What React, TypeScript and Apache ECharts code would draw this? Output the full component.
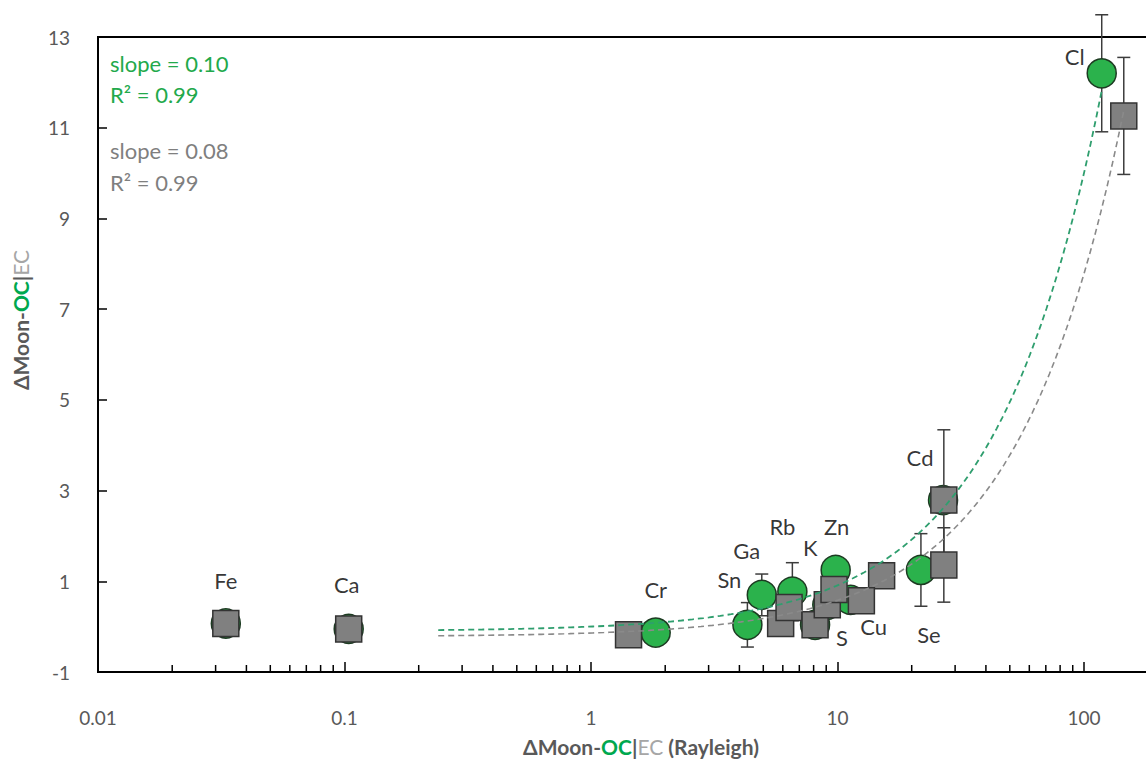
import React, { useEffect, useRef } from 'react';
import * as echarts from 'echarts';

// ---------- data ----------
const elements = ['Fe', 'Ca', 'Cr', 'Sn', 'Ga', 'Rb', 'K', 'Zn', 'S', 'Cu', 'Se', 'Cd', 'Cl'];
// OC (green circles)
const ocX = [0.033, 0.104, 1.83, 4.31, 4.93, 6.56, 9.09, 9.83, 8.11, 11.3, 21.8, 26.8, 118];
const ocY = [0.07, -0.05, -0.13, 0.04, 0.70, 0.77, 0.48, 1.25, 0.04, 0.59, 1.25, 2.79, 12.2];
const ocErr = [0, 0, 0, 0.49, 0.46, 0.64, 0, 0, 0, 0, 0.8, 0, 1.29];
// EC (grey squares)
const ecX = [0.033, 0.104, 1.42, 5.88, 6.36, 8.11, 9.09, 9.68, 15.1, 12.5, 27.0, 27.0, 145];
const ecY = [0.07, -0.05, -0.18, 0.07, 0.42, 0.04, 0.48, 0.82, 1.12, 0.57, 1.36, 2.79, 11.26];
const ecErr = [0, 0, 0, 0, 0, 0, 0, 0, 0, 0, 0.82, 1.55, 1.29];
// linear trendlines (y = slope * x + intercept)
const ocSlope = 0.101;
const ocIntercept = -0.1;
const ocFitRange = [0.24, 118];
const ecSlope = 0.08;
const ecIntercept = -0.22;
const ecFitRange = [0.24, 145];
// axis
const xTickLabels = ['0.01', '0.1', '1', '10', '100'];
const yTicks = [-1, 1, 3, 5, 7, 9, 11, 13];
const decades = [0.01, 0.1, 1, 10, 100];
const minorSteps = [2, 3, 4, 5, 6, 7, 8, 9];

// ---------- style (label offsets in px relative to the OC point) ----------
const labelOffsets: Record<string, [number, number]> = {
  Fe: [0, -43], Ca: [-2, -44], Cr: [0, -43], Sn: [-18, -45], Ga: [-15, -44],
  Rb: [-10, -65], K: [-17, -57], Zn: [1, -43], S: [27, 13], Cu: [23, 27],
  Se: [8, 65], Cd: [-23, -43], Cl: [-27, -17],
};

const GREEN = '#2bb24c';
const GREEN_TEXT = '#22a94b';
const GREEN_LINE = '#2f9e6e';
const GREY = '#808080';
const GREY_TEXT = '#7f7f7f';
const AXIS_TEXT = '#595959';
const FONT = 'Lato, "Open Sans", sans-serif';

const PLOT_LEFT = 98;
const DECADE_PX = 246.5;
const CHART_W = 1400; // wider than the window; the overflow is cut off like the cropped original

function fitLine(slope: number, intercept: number, range: number[]) {
  const pts: number[][] = [];
  const n = 120;
  const l0 = Math.log10(range[0]);
  const l1 = Math.log10(range[1]);
  for (let i = 0; i <= n; i++) {
    const x = Math.pow(10, l0 + ((l1 - l0) * i) / n);
    pts.push([x, slope * x + intercept]);
  }
  return pts;
}

function errorRender(params: any, api: any) {
  const x = api.value(0);
  const y = api.value(1);
  const e = api.value(2);
  const top = api.coord([x, y + e]);
  const bot = api.coord([x, y - e]);
  const hw = 6.5;
  const style = { stroke: '#3c3c3c', lineWidth: 1.5 };
  return {
    type: 'group',
    children: [
      { type: 'line', shape: { x1: top[0], y1: top[1], x2: bot[0], y2: bot[1] }, style },
      { type: 'line', shape: { x1: top[0] - hw, y1: top[1], x2: top[0] + hw, y2: top[1] }, style },
      { type: 'line', shape: { x1: bot[0] - hw, y1: bot[1], x2: bot[0] + hw, y2: bot[1] }, style },
    ],
  };
}

function minorTickRender(params: any, api: any) {
  const v = api.value(0);
  const p = api.coord([v, -1]);
  return {
    type: 'line',
    shape: { x1: p[0], y1: p[1], x2: p[0], y2: p[1] - 7 },
    style: { stroke: '#000', lineWidth: 1.5 },
  };
}

export default function App() {
  const ref = useRef<HTMLDivElement>(null);

  useEffect(() => {
    if (!ref.current) return;
    const chart = echarts.init(ref.current, null, { renderer: 'svg' });

    const minorTicks = decades.flatMap((d) => minorSteps.map((k) => [k * d]));
    const ocPts = elements.map((_, i) => [ocX[i], ocY[i]]);
    const ecPts = elements.map((_, i) => [ecX[i], ecY[i]]);
    const ocErrData = elements.map((_, i) => [ocX[i], ocY[i], ocErr[i]]).filter((d) => d[2] > 0);
    const ecErrData = elements.map((_, i) => [ecX[i], ecY[i], ecErr[i]]).filter((d) => d[2] > 0);
    const labelData = elements.map((el, i) => ({
      value: [ocX[i], ocY[i]],
      name: el,
      label: { offset: labelOffsets[el] },
    }));

    const titleRich = {
      a: { fill: AXIS_TEXT, fontSize: 21, fontWeight: 'bold', fontFamily: FONT },
      g: { fill: '#00a84f', fontSize: 21, fontWeight: 'bold', fontFamily: FONT },
      c: { fill: '#a6a6a6', fontSize: 21, fontWeight: 'normal', fontFamily: FONT },
    };

    const option: any = {
      animation: false,
      backgroundColor: '#ffffff',
      grid: {
        left: PLOT_LEFT,
        top: 37,
        bottom: 90,
        width: 5 * DECADE_PX,
        show: true,
        borderColor: '#000',
        borderWidth: 2,
        backgroundColor: 'transparent',
      },
      xAxis: {
        type: 'log',
        logBase: 10,
        min: 0.01,
        max: 1000,
        axisLine: { show: true, onZero: false, lineStyle: { color: '#000', width: 2 } },
        axisTick: { show: true, inside: true, length: 10, lineStyle: { color: '#000', width: 1.5 } },
        splitLine: { show: false },
        axisLabel: {
          color: AXIS_TEXT,
          fontSize: 19,
          fontFamily: FONT,
          margin: 36,
          formatter: (v: number) => {
            const idx = Math.round(Math.log10(v)) + 2;
            return xTickLabels[idx] ?? '';
          },
        },
      },
      yAxis: {
        type: 'value',
        min: yTicks[0],
        max: yTicks[yTicks.length - 1],
        interval: 2,
        axisLine: { show: true, onZero: false, lineStyle: { color: '#000', width: 2 } },
        axisTick: { show: true, inside: true, length: 9, lineStyle: { color: '#000', width: 1.5 } },
        splitLine: { show: false },
        axisLabel: { color: AXIS_TEXT, fontSize: 19, fontFamily: FONT, margin: 28 },
      },
      series: [
        {
          type: 'custom',
          name: 'minorTicks',
          data: minorTicks,
          renderItem: minorTickRender,
          silent: true,
          z: 1,
          clip: false,
        },
        {
          type: 'custom',
          name: 'ocErr',
          data: ocErrData,
          renderItem: errorRender,
          silent: true,
          clip: false,
          z: 2,
        },
        {
          type: 'scatter',
          name: 'OC',
          data: ocPts,
          symbol: 'circle',
          symbolSize: 29,
          itemStyle: { color: GREEN, borderColor: '#1d3b22', borderWidth: 1.5, opacity: 1 },
          z: 3,
          silent: true,
        },
        {
          type: 'custom',
          name: 'ecErr',
          data: ecErrData,
          renderItem: errorRender,
          silent: true,
          clip: false,
          z: 4,
        },
        {
          type: 'scatter',
          name: 'EC',
          data: ecPts,
          symbol: 'rect',
          symbolSize: 26,
          itemStyle: { color: GREY, borderColor: '#333333', borderWidth: 1.5, opacity: 1 },
          z: 5,
          silent: true,
        },
        {
          type: 'line',
          name: 'OC fit',
          data: fitLine(ocSlope, ocIntercept, ocFitRange),
          showSymbol: false,
          symbol: 'none',
          smooth: false,
          lineStyle: { color: GREEN_LINE, width: 1.8, type: [6, 4] },
          z: 6,
          silent: true,
        },
        {
          type: 'line',
          name: 'EC fit',
          data: fitLine(ecSlope, ecIntercept, ecFitRange),
          showSymbol: false,
          symbol: 'none',
          smooth: false,
          lineStyle: { color: '#8a8a8a', width: 1.6, type: [6, 4] },
          z: 6,
          silent: true,
        },
        {
          type: 'scatter',
          name: 'labels',
          data: labelData,
          symbol: 'circle',
          symbolSize: 1,
          itemStyle: { color: 'rgba(0,0,0,0)' },
          label: {
            show: true,
            position: 'inside',
            formatter: (p: any) => p.name,
            color: '#000',
            fontSize: 22,
            fontFamily: FONT,
          },
          z: 7,
          silent: true,
        },
      ],
      graphic: [
        {
          type: 'text',
          left: 110,
          top: 52,
          style: { text: 'slope = 0.10', fill: GREEN_TEXT, fontSize: 22, fontFamily: FONT },
        },
        {
          type: 'text',
          left: 110,
          top: 83,
          style: { text: 'R² = 0.99', fill: GREEN_TEXT, fontSize: 22, fontFamily: FONT },
        },
        {
          type: 'text',
          left: 110,
          top: 139,
          style: { text: 'slope = 0.08', fill: GREY_TEXT, fontSize: 22, fontFamily: FONT },
        },
        {
          type: 'text',
          left: 110,
          top: 171,
          style: { text: 'R² = 0.99', fill: GREY_TEXT, fontSize: 22, fontFamily: FONT },
        },
        {
          type: 'text',
          x: 20,
          y: 320,
          rotation: Math.PI / 2,
          style: {
            text: '{a|ΔMoon-}{g|OC}{a||}{c|EC}',
            align: 'center',
            verticalAlign: 'middle',
            rich: titleRich,
          },
        },
        {
          type: 'text',
          x: 641,
          y: 746,
          style: {
            text: '{a|ΔMoon-}{g|OC}{a||}{c|EC}{a| (Rayleigh)}',
            align: 'center',
            verticalAlign: 'middle',
            rich: titleRich,
          },
        },
      ],
    };

    chart.setOption(option);
    return () => chart.dispose();
  }, []);

  return (
    <div
      style={{
        position: 'fixed',
        left: 0,
        top: 0,
        width: 1146,
        height: 762,
        overflow: 'hidden',
        background: '#fff',
      }}
    >
      <div ref={ref} style={{ width: CHART_W, height: 762 }} />
    </div>
  );
}
